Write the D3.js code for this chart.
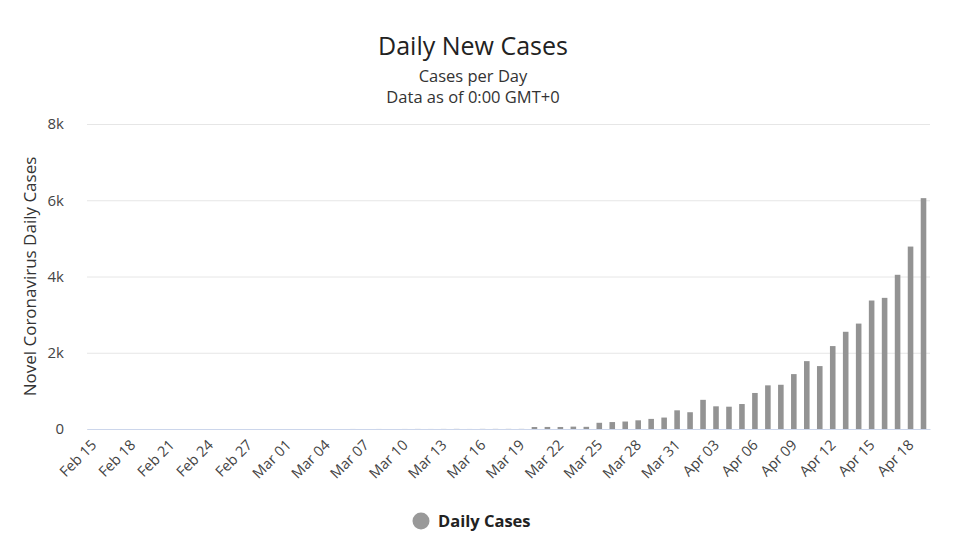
<!DOCTYPE html>
<html><head><meta charset="utf-8">
<script src="https://cdn.jsdelivr.net/npm/d3@7"></script>
<style>body{margin:0;background:#fff}svg{display:block}</style>
</head><body><svg id="c" width="960" height="548"></svg>
<script>
const categories = [
  "Feb 15","Feb 16","Feb 17","Feb 18","Feb 19","Feb 20","Feb 21","Feb 22","Feb 23","Feb 24","Feb 25","Feb 26","Feb 27","Feb 28","Feb 29",
  "Mar 01","Mar 02","Mar 03","Mar 04","Mar 05","Mar 06","Mar 07","Mar 08","Mar 09","Mar 10","Mar 11","Mar 12","Mar 13","Mar 14","Mar 15","Mar 16","Mar 17","Mar 18","Mar 19","Mar 20","Mar 21","Mar 22","Mar 23","Mar 24","Mar 25","Mar 26","Mar 27","Mar 28","Mar 29","Mar 30","Mar 31",
  "Apr 01","Apr 02","Apr 03","Apr 04","Apr 05","Apr 06","Apr 07","Apr 08","Apr 09","Apr 10","Apr 11","Apr 12","Apr 13","Apr 14","Apr 15","Apr 16","Apr 17","Apr 18","Apr 19"
];
const dailyCases = [
  0,0,0,0,0,0,0,0,0,0,0,0,0,0,0,
  0,0,0,0,0,1,0,1,0,1,2,1,2,3,1,3,3,3,3,52,54,53,62,57,163,182,196,228,265,300,490,
  440,765,595,585,655,945,1145,1160,1440,1780,1650,2175,2550,2765,3370,3440,4045,4785,6055
];
const tickLabels = ["Feb 15","Feb 18","Feb 21","Feb 24","Feb 27","Mar 01","Mar 04","Mar 07","Mar 10","Mar 13","Mar 16","Mar 19","Mar 22","Mar 25","Mar 28","Mar 31","Apr 03","Apr 06","Apr 09","Apr 12","Apr 15","Apr 18"];
const yTicks = [0, 2000, 4000, 6000, 8000];
const yTickLabels = ["0", "2k", "4k", "6k", "8k"];

const svg = d3.select("#c");
const font = "'Open Sans', 'Liberation Sans', sans-serif";
const L = 87, R = 930, T = 124, B = 429;

const x = d3.scaleBand().domain(categories).range([L, R]).paddingInner(0.57).paddingOuter(0.285);
const y = d3.scaleLinear().domain([0, 8000]).range([B, T]);

// title
svg.append("text").attr("x", 473).attr("y", 55).attr("text-anchor", "middle")
  .attr("font-family", font).attr("font-size", 25).attr("fill", "#222").text("Daily New Cases");
svg.append("text").attr("x", 473).attr("y", 82).attr("text-anchor", "middle")
  .attr("font-family", font).attr("font-size", 16.5).attr("fill", "#333").text("Cases per Day");
svg.append("text").attr("x", 473).attr("y", 103).attr("text-anchor", "middle")
  .attr("font-family", font).attr("font-size", 16.5).attr("fill", "#333").text("Data as of 0:00 GMT+0");

// grid + y axis
const yAxis = d3.axisLeft(y).tickValues(yTicks).tickSize(-(R - L)).tickPadding(23)
  .tickFormat((d, i) => yTickLabels[i]);
const gy = svg.append("g").attr("transform", `translate(${L},0)`).call(yAxis);
gy.select(".domain").remove();
gy.selectAll(".tick line").attr("stroke", "#e6e6e6");
gy.selectAll(".tick text").attr("font-family", font).attr("font-size", 15).attr("fill", "#444");

svg.append("text").attr("transform", `translate(36,${(T + B) / 2}) rotate(-90)`)
  .attr("text-anchor", "middle").attr("font-family", font).attr("font-size", 17).attr("fill", "#333")
  .text("Novel Coronavirus Daily Cases");

// bars
svg.append("g").selectAll("rect").data(dailyCases).join("rect")
  .attr("x", (d, i) => x(categories[i]))
  .attr("width", x.bandwidth())
  .attr("y", d => y(d))
  .attr("height", d => B - y(d))
  .attr("fill", "#939393");

// x axis
const xAxis = d3.axisBottom(x).tickValues(tickLabels).tickSize(0).tickPadding(0);
const gx = svg.append("g").attr("transform", `translate(0,${B})`).call(xAxis);
gx.select(".domain").attr("stroke", "#ccd6eb");
gx.selectAll(".tick text").attr("font-family", font).attr("font-size", 14.5).attr("fill", "#444")
  .attr("text-anchor", "end").attr("dy", 0)
  .attr("transform", "translate(4,17) rotate(-45)");

// legend
svg.append("circle").attr("cx", 421).attr("cy", 521).attr("r", 8.5).attr("fill", "#999");
svg.append("text").attr("x", 438).attr("y", 527).attr("font-family", font).attr("font-size", 16.5)
  .attr("font-weight", "bold").attr("fill", "#222").text("Daily Cases");
</script>
</body></html>
